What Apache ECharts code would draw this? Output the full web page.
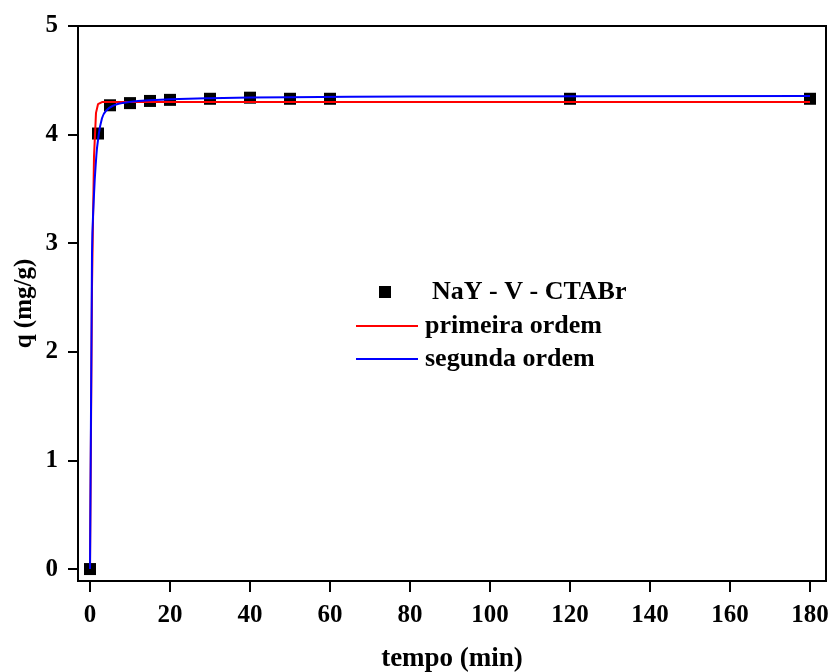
<!DOCTYPE html>
<html><head><meta charset="utf-8">
<script src="https://cdn.jsdelivr.net/npm/echarts@6/dist/echarts.min.js"></script>
<style>html,body{margin:0;padding:0;background:#fff}#c{width:831px;height:672px}</style>
</head><body><div id="c"></div>
<script>
// Experimental data
var tempo = [0, 2, 5, 10, 15, 20, 30, 40, 50, 60, 120, 180];
var qExp  = [0, 4.01, 4.27, 4.29, 4.31, 4.32, 4.33, 4.34, 4.33, 4.33, 4.33, 4.33];
// Fitted curves
var firstT = [0, 0.5, 1, 1.5, 2, 3, 180];
var firstQ = [0, 2.6, 3.8, 4.2, 4.28, 4.30, 4.30];
var secondT = [0, 0.5, 1, 1.5, 2, 3, 4, 6, 8, 12, 20, 30, 50, 80, 180];
var secondQ = [0, 2.9, 3.45, 3.76, 3.95, 4.15, 4.22, 4.27, 4.29, 4.31, 4.325, 4.335, 4.345, 4.35, 4.355];
var xTicks = [0, 20, 40, 60, 80, 100, 120, 140, 160, 180];
var yTicks = [0, 1, 2, 3, 4, 5];

function pairs(a, b) { return a.map(function (v, i) { return [v, b[i]]; }); }
var font = 'Liberation Serif';
var chart = echarts.init(document.getElementById('c'));
chart.setOption({
  backgroundColor: '#fff',
  animation: false,
  grid: { left: 78, right: 5, top: 26, bottom: 91, outerBoundsMode: 'none', containLabel: false,
          show: true, borderColor: '#000', borderWidth: 2, backgroundColor: 'transparent' },
  xAxis: {
    type: 'value', min: -3, max: 184,
    name: 'tempo (min)', nameLocation: 'middle', nameGap: 65, nameMoveOverlap: false,
    nameTextStyle: { fontFamily: font, fontWeight: 'bold', fontSize: 27, color: '#000' },
    axisLine: { onZero: false, lineStyle: { color: '#000', width: 2 } },
    axisTick: { customValues: xTicks, inside: false, length: 11, lineStyle: { color: '#000', width: 2 } },
    axisLabel: { customValues: xTicks, fontFamily: font, fontWeight: 'bold', fontSize: 25, color: '#000', margin: 22 },
    splitLine: { show: false }
  },
  yAxis: {
    type: 'value', min: -0.11, max: 5,
    name: 'q (mg/g)', nameLocation: 'middle', nameGap: 41, nameMoveOverlap: false,
    nameTextStyle: { fontFamily: font, fontWeight: 'bold', fontSize: 25, color: '#000' },
    axisLine: { onZero: false, lineStyle: { color: '#000', width: 2 } },
    axisTick: { customValues: yTicks, inside: false, length: 10, lineStyle: { color: '#000', width: 2 } },
    axisLabel: { customValues: yTicks, fontFamily: font, fontWeight: 'bold', fontSize: 25, color: '#000', margin: 20 },
    splitLine: { show: false }
  },
  legend: [
    { data: ['NaY - V - CTABr'], left: 374, top: 274, itemWidth: 12, itemHeight: 12,
      textStyle: { fontFamily: font, fontWeight: 'bold', fontSize: 26, color: '#000', padding: [0, 0, 0, 36] } },
    { data: [{ name: 'primeira ordem', icon: 'rect' }, { name: 'segunda ordem', icon: 'rect' }],
      orient: 'vertical', left: 351, top: 308, itemWidth: 62, itemHeight: 2, itemGap: 7,
      textStyle: { fontFamily: font, fontWeight: 'bold', fontSize: 26, color: '#000', padding: [0, 0, 0, 2] } }
  ],
  series: [
    { name: 'primeira ordem', type: 'line', data: pairs(firstT, firstQ), symbol: 'none', smooth: false,
      lineStyle: { color: '#ff0000', width: 2 }, itemStyle: { color: '#ff0000' }, z: 2 },
    { name: 'segunda ordem', type: 'line', data: pairs(secondT, secondQ), symbol: 'none', smooth: true,
      lineStyle: { color: '#0000ff', width: 2 }, itemStyle: { color: '#0000ff' }, z: 3 },
    { name: 'NaY - V - CTABr', type: 'scatter', data: pairs(tempo, qExp), symbol: 'rect', symbolSize: 12,
      itemStyle: { color: '#000', opacity: 1 }, z: 1 }
  ]
});
</script></body></html>
